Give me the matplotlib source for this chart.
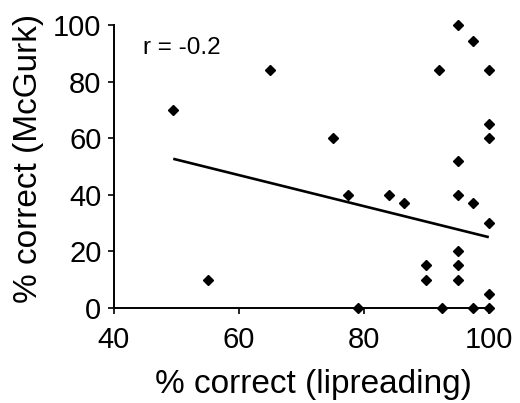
import matplotlib
matplotlib.use("Agg")
import matplotlib.pyplot as plt

# % correct lipreading (x) vs % correct McGurk (y)
lip = [49.5, 55, 65, 75, 77.5, 79, 84, 86.5, 90, 90, 92, 92.5, 95, 95, 95,
       95, 95, 95, 97.5, 97.5, 97.5, 100, 100, 100, 100, 100, 100]
mcgurk = [70, 10, 84, 60, 40, 0, 40, 37, 15, 10, 84, 0, 100, 52, 40,
          20, 15, 10, 94.5, 37, 0, 84, 65, 60, 30, 5, 0]
# regression line end points
fit_x = [49.5, 100]
fit_y = [52.7, 25]

plt.rcParams["font.family"] = ["Liberation Sans", "DejaVu Sans"]

fig = plt.figure(figsize=(5.2, 4.03), dpi=100)
ax = fig.add_axes([0.219, 0.236, 0.721, 0.702])

ax.plot(fit_x, fit_y, color="black", lw=1.9, solid_capstyle="butt")
ax.plot(lip, mcgurk, ls="none", marker="D", ms=5.5, color="black", clip_on=False)

ax.set_xlim(40, 100)
ax.set_ylim(0, 100)
ax.set_xticks([40, 60, 80, 100])
ax.set_yticks([0, 20, 40, 60, 80, 100])
for s in ["top", "right"]:
    ax.spines[s].set_visible(False)
for s in ["left", "bottom"]:
    ax.spines[s].set_linewidth(1.4)
ax.tick_params(direction="out", length=4, width=1.2, labelsize=21)
ax.tick_params(axis="x", pad=9)
ax.tick_params(axis="y", pad=5)

ax.set_xlabel("% correct (lipreading)", fontsize=24, va="center")
ax.set_ylabel("% correct (McGurk)", fontsize=24, va="center")
ax.xaxis.set_label_coords(0.531, -0.272)
ax.yaxis.set_label_coords(-0.229, 0.53)
ax.text(44.7, 92, "r = -0.2", fontsize=17.5, va="center", ha="left")

fig.savefig("out.png", dpi=100)
